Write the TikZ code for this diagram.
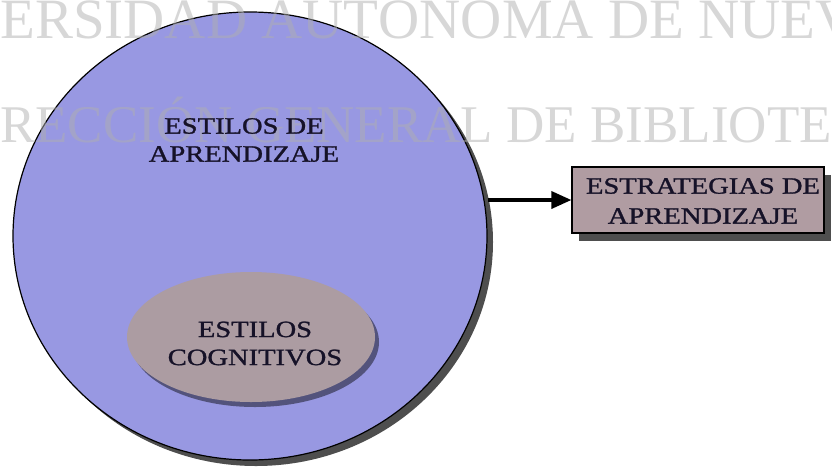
\documentclass[tikz,border=0pt]{standalone}
\usepackage{fontspec}
\setmainfont{Liberation Serif}
\newfontfamily\widefont[FakeStretch=1.22,FakeBold=1.2]{Liberation Serif}
\usetikzlibrary{shapes.geometric,shadows,arrows.meta}
\definecolor{lav}{RGB}{152,152,226}
\definecolor{mauve}{RGB}{172,156,162}
\definecolor{boxfill}{RGB}{176,156,162}
\definecolor{shade}{RGB}{78,78,78}
\definecolor{wm}{RGB}{175,175,175}
\definecolor{ink}{RGB}{22,18,40}
\begin{document}
\begin{tikzpicture}[x=1pt,y=-1pt,
  lbl/.style={font=\widefont\fontsize{23.4}{28}\selectfont, align=center, inner sep=0pt, text=ink},
  wmark/.style={anchor=base west, inner sep=0pt, text=wm, text opacity=0.5},
  conn/.style={line width=3.5pt, -{Triangle[length=20pt,width=17pt]}}]
\useasboundingbox (0,0) rectangle (832,466);
\node[ellipse, minimum width=474pt, minimum height=448pt, inner sep=0pt,
  fill=lav, draw=black, line width=1.2pt,
  drop shadow={shadow xshift=6pt, shadow yshift=-6pt, fill=shade, opacity=1}] (big) at (250,236) {};
\node[ellipse, minimum width=248pt, minimum height=130pt, inner sep=0pt, fill=mauve,
  drop shadow={shadow xshift=4pt, shadow yshift=-5pt, fill=black, opacity=0.45}] (inner) at (251,337) {};
\node[rectangle, minimum width=252pt, minimum height=66pt, inner sep=0pt,
  fill=boxfill, draw=black, line width=1.2pt,
  drop shadow={shadow xshift=7pt, shadow yshift=-8pt, fill=shade, opacity=1}] (box) at (698,200) {};
\node[wmark, font=\fontsize{57}{57}\selectfont] (wm1) at (0,38) {ERSIDAD AUTÓNOMA DE NUEV};
\node[wmark, font=\fontsize{53}{53}\selectfont] (wm2) at (0,142) {RECCIÓN GENERAL DE BIBLIOTE};
\node[lbl] (t1) at (244,140) {ESTILOS DE\\APRENDIZAJE};
\node[lbl] (t2) at (255,343.5) {ESTILOS\\COGNITIVOS};
\node[lbl, font=\widefont\fontsize{23.4}{30}\selectfont] (t3) at (703,201) {ESTRATEGIAS DE\\APRENDIZAJE};
\draw[conn] (big.east |- box.west) -- (box.west);
\end{tikzpicture}
\end{document}
